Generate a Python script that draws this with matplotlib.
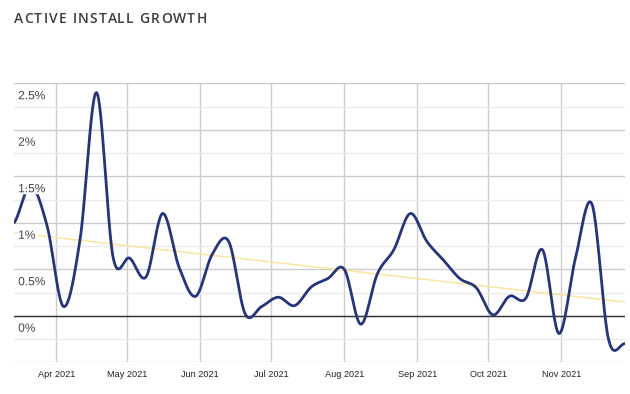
import matplotlib
matplotlib.use('Agg')
import matplotlib.pyplot as plt
import matplotlib.dates as mdates
import matplotlib.patheffects as pe
import matplotlib.transforms as mtransforms
import numpy as np

# weekly growth values (%), first point on 14 Mar 2021
start = np.datetime64('2021-03-14')
growth = [1.00, 1.40, 0.97, 0.10, 0.82, 2.40, 0.63, 0.62, 0.42, 1.10,
          0.52, 0.21, 0.66, 0.80, 0.02, 0.10, 0.20, 0.11, 0.31, 0.40,
          0.50, -0.09, 0.45, 0.71, 1.10, 0.80, 0.60, 0.40, 0.30, 0.01,
          0.21, 0.19, 0.71, -0.19, 0.62, 1.20, -0.25, -0.30]
dates = start + np.arange(len(growth)) * np.timedelta64(7, 'D')

y_ticks = [0, 0.5, 1, 1.5, 2, 2.5]
y_labels = ['0%', '0.5%', '1%', '1.5%', '2%', '2.5%']
month_ticks = ['2021-04-01', '2021-05-01', '2021-06-01', '2021-07-01',
               '2021-08-01', '2021-09-01', '2021-10-01', '2021-11-01']
title = 'ACTIVE INSTALL GROWTH'

navy = '#26347a'
trend_col = '#fde4a0'


# smooth curve through the points (catmull-rom, like a "function" curve)
def smooth(x, y, n=24):
    x = np.asarray(x, float)
    y = np.asarray(y, float)
    yp = np.concatenate([[y[0]], y, [y[-1]]])
    xs, ys = [], []
    for i in range(len(y) - 1):
        p0, p1, p2, p3 = yp[i], yp[i+1], yp[i+2], yp[i+3]
        m1 = (p2 - p0) / 2
        m2 = (p3 - p1) / 2
        t = np.linspace(0, 1, n, endpoint=False)
        h00 = 2*t**3 - 3*t**2 + 1
        h10 = t**3 - 2*t**2 + t
        h01 = -2*t**3 + 3*t**2
        h11 = t**3 - t**2
        ys.append(h00*p1 + h10*m1 + h01*p2 + h11*m2)
        xs.append(x[i] + t*(x[i+1] - x[i]))
    xs.append([x[-1]])
    ys.append([y[-1]])
    return np.concatenate(xs), np.concatenate(ys)


plt.rcParams['font.family'] = ['Liberation Sans', 'DejaVu Sans']

fig = plt.figure(figsize=(6.3, 3.94), dpi=100)
ax = fig.add_axes([14/630, 1 - 362.3/394, 611/630, (362.3 - 83.3)/394])

xnum = mdates.date2num(dates.astype('datetime64[D]').astype(object))
sx, sy = smooth(xnum, growth)

# linear trendline
k, b = np.polyfit(xnum, growth, 1)
ax.plot(xnum[[0, -1]], k*xnum[[0, -1]] + b, color=trend_col, lw=1.1, zorder=2)

ax.plot(sx, sy, color=navy, lw=2.0, zorder=3, solid_capstyle='round')
ax.axhline(0, color='#333333', lw=1.0, zorder=2.5)

ax.set_xlim(xnum[0], xnum[-1])
ax.set_ylim(-0.5, 2.5)

ax.set_yticks(np.arange(-0.5, 2.51, 0.5))
ax.set_yticks(np.arange(-0.5, 2.51, 0.25), minor=True)
ax.yaxis.grid(True, which='major', color='#cccccc', lw=1.0)
ax.yaxis.grid(True, which='minor', color='#ebebeb', lw=1.0)
ax.set_yticklabels([])
ax.tick_params(axis='y', which='both', length=0)

mt = mdates.date2num([np.datetime64(m).astype(object) for m in month_ticks])
ax.set_xticks(mt)
ax.xaxis.set_major_formatter(mdates.DateFormatter('%b %Y'))
ax.xaxis.grid(True, color='#cccccc', lw=1.0)
ax.tick_params(axis='x', length=0, pad=5.5, labelsize=6.6, labelcolor='#222222')
ax.set_axisbelow(True)

for s in ax.spines.values():
    s.set_visible(False)

# y labels sit inside the plot, just under their gridline
off = mtransforms.offset_copy(ax.get_yaxis_transform(), fig=fig, x=3, y=-5, units='points')
for v, lab in zip(y_ticks, y_labels):
    ax.text(0, v, lab, transform=off, ha='left', va='top', fontsize=8.6,
            color='#444444', zorder=4,
            path_effects=[pe.withStroke(linewidth=3, foreground='white')])

# title with letter spacing, one glyph at a time
renderer = fig.canvas.get_renderer()
tkw = dict(fontsize=10, fontweight='semibold', family=['Open Sans', 'DejaVu Sans'],
           color='#3a3d42', va='center', ha='left')


def text_w(s):
    t = fig.text(0, 0, s + '|', **tkw)
    w = t.get_window_extent(renderer).width
    t.remove()
    return w


bar_w = text_w('')
spacing = 1.2
for i, ch in enumerate(title):
    x = 14 + (text_w(title[:i]) - bar_w) + i * spacing
    fig.text(x / 630, 1 - 19/394, ch, **tkw)

fig.savefig('out.png', dpi=100)
